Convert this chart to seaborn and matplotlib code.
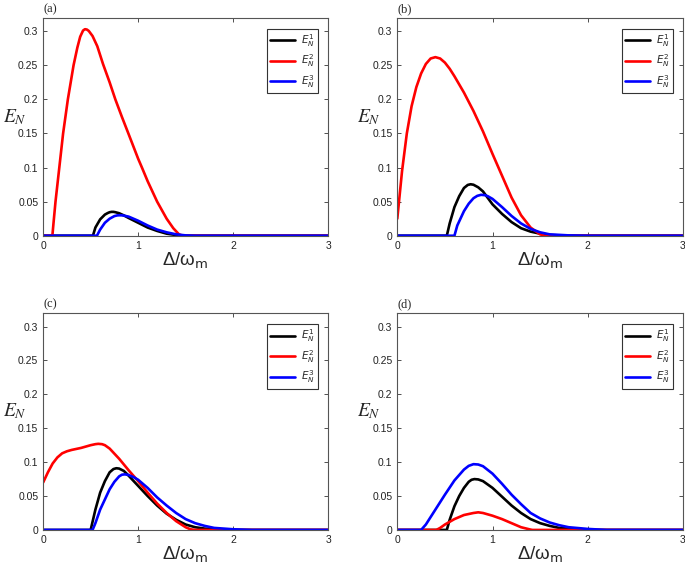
import numpy as np
import pandas as pd
import matplotlib
matplotlib.use('Agg')
import matplotlib.pyplot as plt
import seaborn as sns

# ---- data: (x, E_N) for each curve ----
# panel (a)
a1_x = [0, 0.524, 0.55, 0.6, 0.65, 0.68, 0.7, 0.72, 0.74, 0.76, 0.8, 0.85, 0.9, 1.0, 1.1, 1.2, 1.3, 1.4, 1.5, 3.0]
a1_y = [0, 0, 0.012, 0.024, 0.031, 0.0333, 0.0345, 0.035, 0.035, 0.0345, 0.033, 0.0298, 0.026, 0.019, 0.012, 0.007, 0.003, 0.001, 0, 0]
a2_x = [0, 0.097, 0.11, 0.13, 0.15, 0.17, 0.21, 0.26, 0.32, 0.36, 0.39, 0.42, 0.44, 0.46, 0.48, 0.52, 0.57,
        0.63, 0.7, 0.76, 0.83, 0.9, 1.0, 1.04, 1.1, 1.2, 1.3, 1.37, 1.43, 1.47, 3.0]
a2_y = [0, 0, 0.02, 0.05, 0.075, 0.1, 0.15, 0.2, 0.25, 0.276, 0.292, 0.301, 0.303, 0.3025, 0.3005, 0.293, 0.278,
        0.252, 0.225, 0.2, 0.174, 0.149, 0.113, 0.1, 0.08, 0.05, 0.025, 0.011, 0.002, 0, 0]
a3_x = [0, 0.566, 0.6, 0.65, 0.7, 0.75, 0.78, 0.8, 0.83, 0.85, 0.9, 1.0, 1.1, 1.2, 1.3, 1.4, 1.5, 1.6, 3.0]
a3_y = [0, 0, 0.009, 0.019, 0.025, 0.0288, 0.0298, 0.030, 0.0299, 0.0295, 0.028, 0.022, 0.015, 0.009, 0.005, 0.002, 0.0005, 0, 0]

# panel (b)
b1_x = [0, 0.52, 0.55, 0.6, 0.65, 0.7, 0.74, 0.77, 0.8, 0.85, 0.9, 1.0, 1.1, 1.2, 1.3, 1.4, 1.5, 1.6, 1.8, 3.0]
b1_y = [0, 0, 0.018, 0.042, 0.058, 0.07, 0.0745, 0.0755, 0.0748, 0.071, 0.065, 0.046, 0.032, 0.02, 0.011, 0.006, 0.003, 0.001, 0, 0]
b2_x = [0, 0.05, 0.1, 0.15, 0.2, 0.25, 0.3, 0.35, 0.4, 0.45, 0.5, 0.55, 0.6, 0.7, 0.8, 0.9,
        1.0, 1.1, 1.2, 1.3, 1.4, 1.5, 1.55, 3.0]
b2_y = [0.025, 0.095, 0.15, 0.19, 0.218, 0.238, 0.252, 0.26, 0.262, 0.26, 0.254, 0.245, 0.234, 0.21, 0.183, 0.153,
        0.12, 0.088, 0.056, 0.03, 0.012, 0.002, 0, 0]
b3_x = [0, 0.6, 0.63, 0.7, 0.75, 0.8, 0.84, 0.88, 0.92, 0.95, 1.0, 1.1, 1.2, 1.3, 1.4, 1.5, 1.6, 1.8, 2.0, 3.0]
b3_y = [0, 0, 0.015, 0.036, 0.047, 0.055, 0.0585, 0.06, 0.0595, 0.058, 0.054, 0.042, 0.029, 0.018, 0.010, 0.005, 0.002, 0.0005, 0, 0]

# panel (c)
c1_x = [0, 0.5, 0.55, 0.6, 0.65, 0.7, 0.74, 0.77, 0.8, 0.85, 0.9, 1.0, 1.1, 1.2, 1.3, 1.4, 1.5, 1.6, 1.7, 1.8, 1.9, 3.0]
c1_y = [0, 0, 0.03, 0.055, 0.072, 0.085, 0.0898, 0.091, 0.0905, 0.087, 0.08, 0.065, 0.05, 0.036, 0.024, 0.015, 0.008, 0.004, 0.002, 0.001, 0, 0]
c2_x = [0, 0.05, 0.1, 0.15, 0.2, 0.25, 0.3, 0.4, 0.5, 0.55, 0.58, 0.62, 0.65, 0.7, 0.8, 0.9,
        1.0, 1.1, 1.2, 1.3, 1.4, 1.5, 1.55, 1.6, 3.0]
c2_y = [0.07, 0.085, 0.098, 0.107, 0.113, 0.116, 0.118, 0.121, 0.125, 0.1265, 0.127, 0.1265, 0.125, 0.12, 0.105, 0.088,
        0.072, 0.055, 0.039, 0.025, 0.013, 0.004, 0.001, 0, 0]
c3_x = [0, 0.52, 0.55, 0.6, 0.65, 0.7, 0.75, 0.8, 0.83, 0.86, 0.9, 0.95, 1.0, 1.1, 1.2, 1.3, 1.4, 1.5,
        1.6, 1.7, 1.8, 2.0, 2.2, 3.0]
c3_y = [0, 0, 0.01, 0.03, 0.045, 0.06, 0.071, 0.079, 0.0815, 0.082, 0.081, 0.078, 0.074, 0.062, 0.048, 0.036, 0.025, 0.016,
        0.01, 0.006, 0.003, 0.001, 0, 0]

# panel (d)
d1_x = [0, 0.52, 0.55, 0.6, 0.65, 0.7, 0.75, 0.78, 0.81, 0.85, 0.9, 1.0, 1.1, 1.2, 1.3, 1.4, 1.5, 1.6, 1.7, 1.8, 2.0, 3.0]
d1_y = [0, 0, 0.015, 0.035, 0.05, 0.062, 0.071, 0.074, 0.075, 0.0745, 0.072, 0.062, 0.049, 0.036, 0.025, 0.016, 0.01, 0.006, 0.003, 0.002, 0, 0]
d2_x = [0, 0.41, 0.45, 0.5, 0.6, 0.7, 0.8, 0.85, 0.9, 1.0, 1.1, 1.2, 1.3, 1.4, 1.42, 3.0]
d2_y = [0, 0, 0.003, 0.008, 0.016, 0.022, 0.025, 0.026, 0.025, 0.021, 0.016, 0.01, 0.004, 0.0005, 0, 0]
d3_x = [0, 0.25, 0.3, 0.4, 0.5, 0.6, 0.7, 0.75, 0.8, 0.85, 0.9, 1.0, 1.1, 1.2, 1.3, 1.4, 1.5, 1.6,
        1.7, 1.8, 2.0, 2.2, 3.0]
d3_y = [0, 0, 0.008, 0.03, 0.052, 0.073, 0.089, 0.0945, 0.097, 0.0965, 0.094, 0.083, 0.068, 0.052, 0.038, 0.025, 0.017, 0.011,
        0.007, 0.004, 0.0015, 0, 0]

panel_names = ['(a)', '(b)', '(c)', '(d)']
series_labels = ['$E_N^1$', '$E_N^2$', '$E_N^3$']
series_colors = ['black', 'red', 'blue']
y_ticks = [0, 0.05, 0.1, 0.15, 0.2, 0.25, 0.3]
y_tick_labels = ['0', '0.05', '0.1', '0.15', '0.2', '0.25', '0.3']
x_ticks = [0, 1, 2, 3]

panels = [
    [(a1_x, a1_y), (a2_x, a2_y), (a3_x, a3_y)],
    [(b1_x, b1_y), (b2_x, b2_y), (b3_x, b3_y)],
    [(c1_x, c1_y), (c2_x, c2_y), (c3_x, c3_y)],
    [(d1_x, d1_y), (d2_x, d2_y), (d3_x, d3_y)],
]

sns.set_style('ticks')
plt.rcParams['font.family'] = ['Liberation Sans', 'DejaVu Sans']
plt.rcParams['axes.linewidth'] = 0.8

fig = plt.figure(figsize=(6.85, 5.68), dpi=100)
# axes rectangles in figure fraction [left, bottom, width, height]
rects = [
    [0.063, 0.585, 0.416, 0.384],
    [0.580, 0.585, 0.417, 0.384],
    [0.063, 0.067, 0.416, 0.382],
    [0.580, 0.067, 0.417, 0.382],
]

for name, curves, rect in zip(panel_names, panels, rects):
    ax = fig.add_axes(rect)
    for (xs, ys), lab, col in zip(curves, series_labels, series_colors):
        df = pd.DataFrame({'x': xs, 'y': ys})
        sns.lineplot(data=df, x='x', y='y', color=col, linewidth=1.9,
                     label=lab, ax=ax, sort=False, solid_joinstyle='round')

    ax.set_xlim(0, 3)
    ax.set_ylim(0, 0.32)
    ax.set_xticks(x_ticks)
    ax.set_xticklabels([str(t) for t in x_ticks])
    ax.set_yticks(y_ticks)
    ax.set_yticklabels(y_tick_labels)
    ax.tick_params(direction='in', top=True, right=True, length=3,
                   labelsize=7.5, colors='#333333', labelcolor='#222222', width=0.6)
    for sp in ax.spines.values():
        sp.set_visible(True)
        sp.set_color('#555555')

    ax.set_xlabel('Δ/ω$_{\\mathrm{m}}$', fontsize=13.5, labelpad=0,
                  math_fontfamily='dejavusans')
    ax.set_ylabel('$E_N$', fontsize=14, rotation=0,
                  math_fontfamily='stix')
    ax.yaxis.set_label_coords(-0.1, 0.5)

    ax.text(0.0, 1.012, name, transform=ax.transAxes, fontsize=9,
            family='Liberation Serif', va='bottom', ha='left')

    leg = ax.legend(loc='upper right', bbox_to_anchor=(0.965, 0.95),
                    fontsize=7.5, frameon=True, fancybox=False,
                    handlelength=2.4, handletextpad=0.5, labelspacing=0.35,
                    borderpad=0.35, borderaxespad=0)
    leg.get_frame().set_edgecolor('#333333')
    leg.get_frame().set_linewidth(0.8)
    leg.get_frame().set_alpha(1)

fig.savefig('out.png', dpi=100)
